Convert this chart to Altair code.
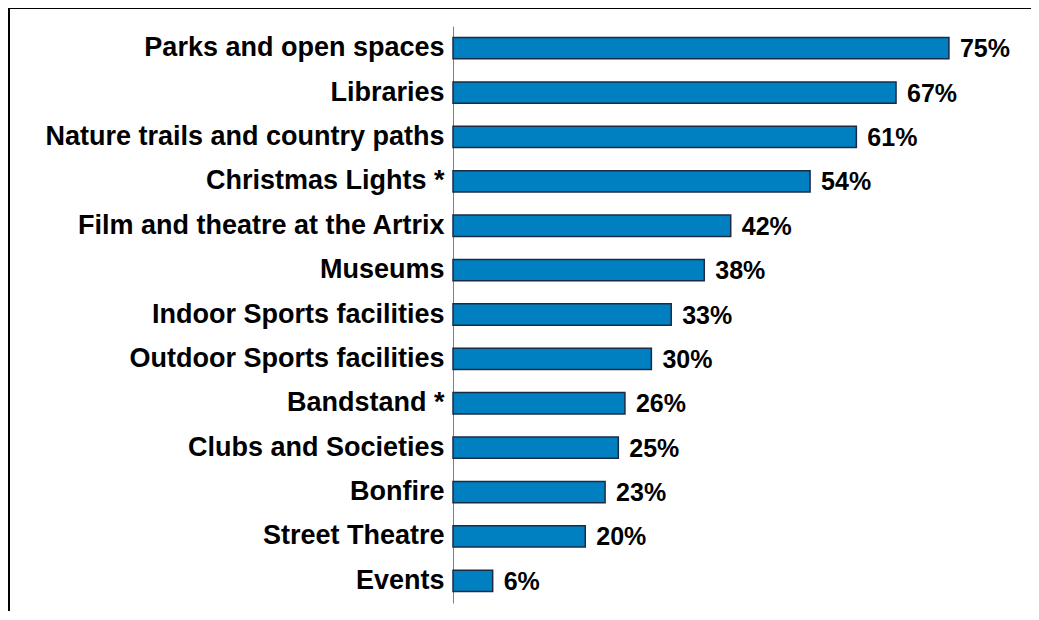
import altair as alt
import pandas as pd

categories = [
    "Parks and open spaces",
    "Libraries",
    "Nature trails and country paths",
    "Christmas Lights *",
    "Film and theatre at the Artrix",
    "Museums",
    "Indoor Sports facilities",
    "Outdoor Sports facilities",
    "Bandstand *",
    "Clubs and Societies",
    "Bonfire",
    "Street Theatre",
    "Events",
]
values = [75, 67, 61, 54, 42, 38, 33, 30, 26, 25, 23, 20, 6]

df = pd.DataFrame({"category": categories, "value": values})

FONT = "Liberation Sans"

y_enc = alt.Y(
    "category:N",
    sort=categories,
    title=None,
    scale=alt.Scale(paddingInner=0.52, paddingOuter=0.26),
    axis=alt.Axis(
        ticks=False,
        labelPadding=9,
        labelLimit=600,
        labelFont=FONT,
        labelFontWeight="bold",
        labelFontSize=27,
        labelColor="#000000",
        domainColor="#808080",
        domainWidth=1,
        grid=False,
    ),
)
x_enc = alt.X("value:Q", scale=alt.Scale(domain=[0, 80]), axis=None)

bars = alt.Chart(df).mark_bar(
    color="#0080C0", stroke="#1B2B45", strokeWidth=1.5
).encode(x=x_enc, y=y_enc)

labels = alt.Chart(df).transform_calculate(
    lbl="datum.value + '%'"
).mark_text(
    align="left", baseline="middle", dx=11, dy=1,
    font=FONT, fontWeight="bold", fontSize=25, color="#000000"
).encode(x=x_enc, y=alt.Y("category:N", sort=categories), text="lbl:N")

frame_data = alt.Data(values=[{"a": 1}])
frame_left = alt.Chart(frame_data).mark_rule(color="#000000", strokeWidth=2).encode(
    x=alt.value(-444), y=alt.value(-18), y2=alt.value(600)
)
frame_top = alt.Chart(frame_data).mark_rule(color="#000000", strokeWidth=2).encode(
    x=alt.value(-445), x2=alt.value(600), y=alt.value(-18)
)

chart = alt.layer(bars, labels, frame_left, frame_top).properties(
    width=529,
    height=577,
    background="white",
    padding={"left": 445, "top": 18, "right": 49, "bottom": 8},
    autosize=alt.AutoSizeParams(type="none"),
).configure_view(strokeWidth=0, stroke="transparent")

chart.save("out.html", embed_options={"renderer": "svg", "actions": False})
